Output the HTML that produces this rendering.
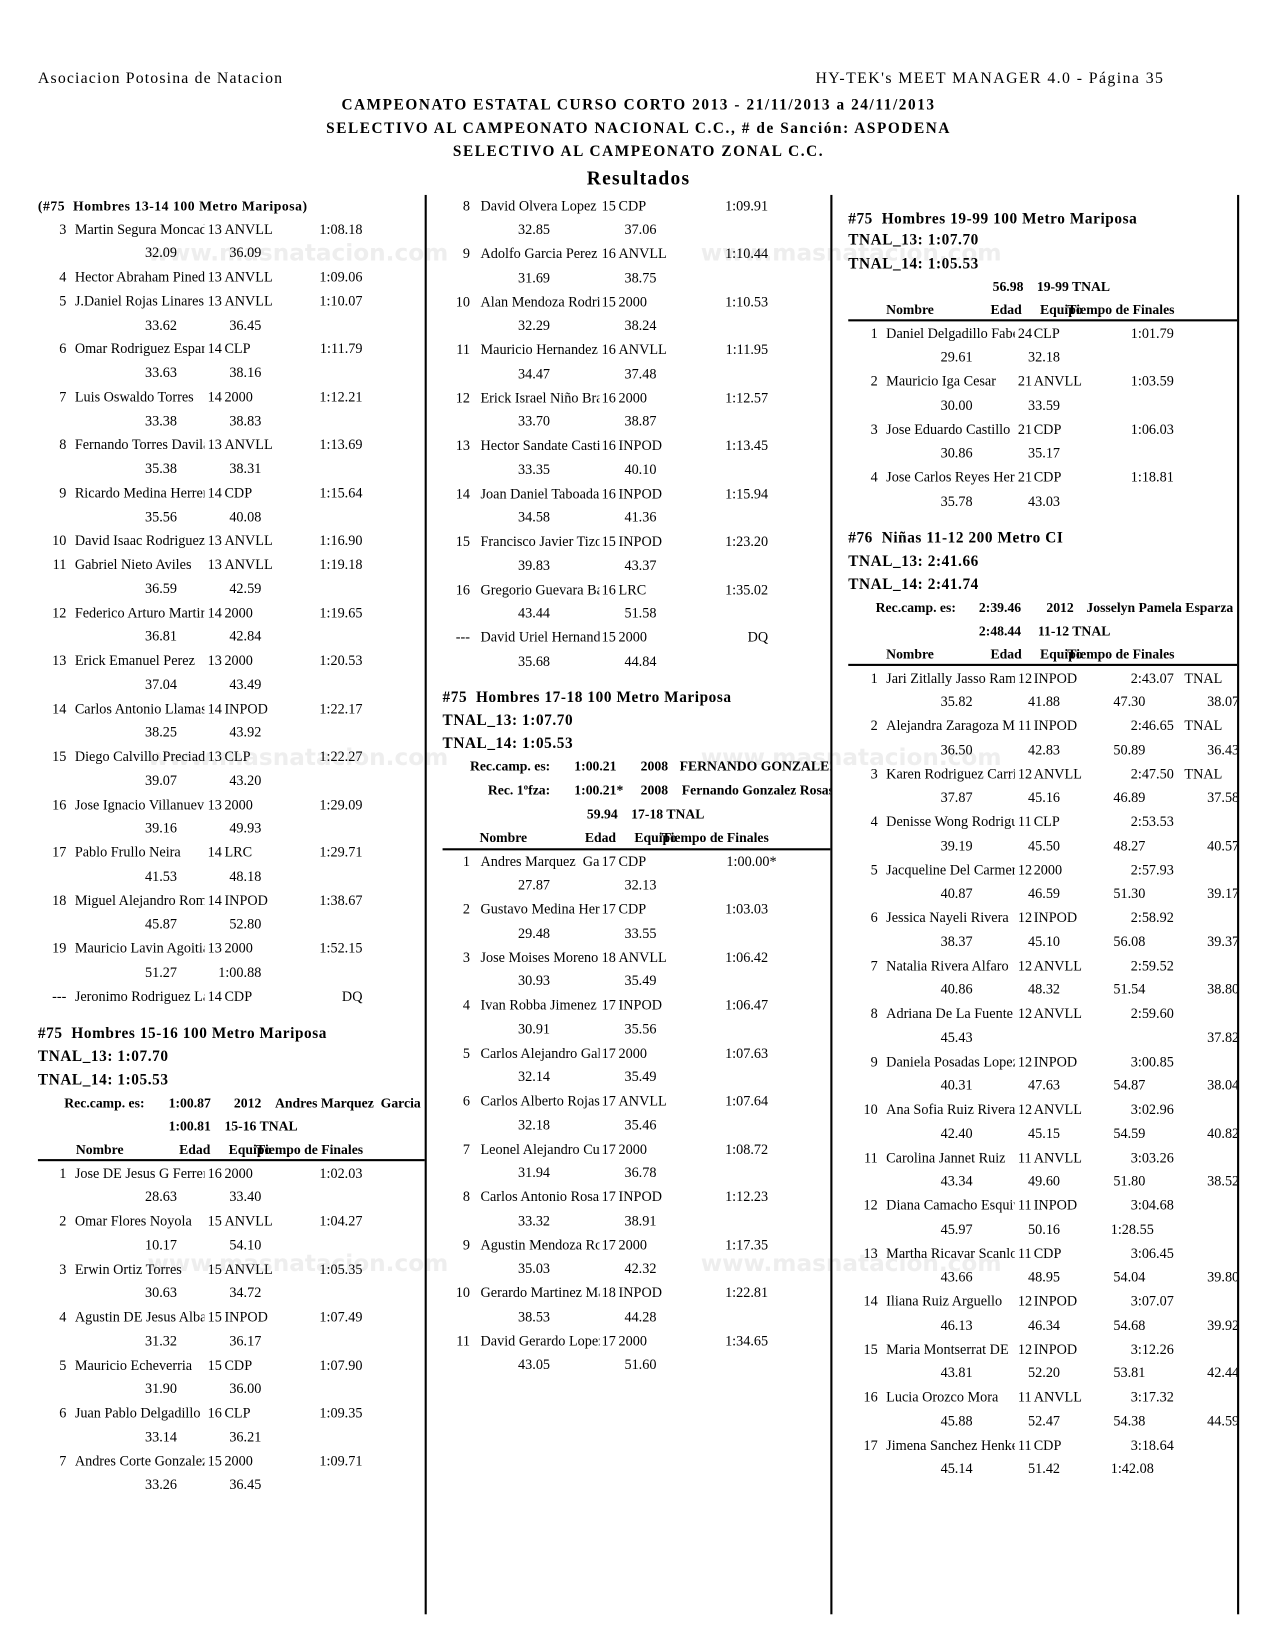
<!DOCTYPE html>
<html><head><meta charset="utf-8">
<style>
html,body{margin:0;padding:0;background:#fff;width:1275px;height:1650px;overflow:hidden}
#pg{position:absolute;left:0;top:0;width:1210px;height:1566px;transform:scale(1.05372);transform-origin:0 0;font-family:"Liberation Serif",serif;font-size:13.5px;color:#000}
.abs{position:absolute;white-space:nowrap;line-height:22px}
.b{font-weight:bold}
.h{font-weight:bold;font-size:14.5px;letter-spacing:0.55px}
.t1{font-weight:bold;font-size:14.5px;letter-spacing:1.5px}
.rc{font-weight:bold;font-size:13px}
.col{position:absolute;top:0;left:0;height:1566px;overflow:hidden}
.L{width:403px}.M{width:788px}.R{width:1174px}
.blk{position:absolute;left:0;width:1210px}
.r{position:relative;height:22.75px;line-height:22.75px}
.r span{position:absolute;top:0;white-space:nowrap}
.L .p{left:20px;width:43px;text-align:right}.L .nm{left:71px;width:123px;overflow:hidden}.L .a{left:197px}.L .tm{left:213px}.L .t{left:284px;width:60px;text-align:right}.L .s1{left:108px;width:60px;text-align:right}.L .s2{left:188px;width:60px;text-align:right}
.M .p{left:396px;width:50px;text-align:right}.M .nm{left:456px;width:113px;overflow:hidden}.M .a{left:571px}.M .tm{left:587px}.M .t{left:669px;width:60px;text-align:right}.M .s1{left:462px;width:60px;text-align:right}.M .s2{left:563px;width:60px;text-align:right}
.R .p{left:783px;width:50px;text-align:right}.R .nm{left:841px;width:122px;overflow:hidden}.R .a{left:966px}.R .tm{left:981px}.R .t{left:1054px;width:60px;text-align:right}.R .x{left:1124px}.R .s1{left:863px;width:60px;text-align:right}.R .s2{left:946px;width:60px;text-align:right}.R .s3{left:1027px;width:60px;text-align:right}.R .s4{left:1116px;width:60px;text-align:right}
.vl{position:absolute;width:2px;background:#000;top:185px;height:1347px}
.hl{position:absolute;height:2px;background:#000}
.wm{position:absolute;font-family:"DejaVu Sans",sans-serif;font-weight:bold;font-size:22px;color:#eeeeee;white-space:nowrap;line-height:24px}
</style></head><body><div id="pg">

<div class="wm" style="left:140px;top:229px">www.masnatacion.com</div>
<div class="wm" style="left:665px;top:229px">www.masnatacion.com</div>
<div class="wm" style="left:140px;top:708px">www.masnatacion.com</div>
<div class="wm" style="left:665px;top:708px">www.masnatacion.com</div>
<div class="wm" style="left:140px;top:1188px">www.masnatacion.com</div>
<div class="wm" style="left:665px;top:1188px">www.masnatacion.com</div>

<div class="abs" style="left:36px;top:64px;font-size:15px;letter-spacing:1.1px">Asociacion Potosina de Natacion</div>
<div class="abs" style="left:655px;top:64px;width:450px;text-align:right;font-size:15px;letter-spacing:1.35px">HY-TEK's MEET MANAGER 4.0 - Página 35</div>
<div class="abs t1" style="left:0;width:1212px;text-align:center;top:89px">CAMPEONATO ESTATAL CURSO CORTO 2013 - 21/11/2013 a 24/11/2013</div>
<div class="abs t1" style="left:0;width:1212px;text-align:center;top:111px">SELECTIVO AL CAMPEONATO NACIONAL C.C., # de Sanción: ASPODENA</div>
<div class="abs t1" style="left:0;width:1212px;text-align:center;top:133px">SELECTIVO AL CAMPEONATO ZONAL C.C.</div>
<div class="abs b" style="left:0;width:1212px;text-align:center;top:159px;font-size:18.5px;letter-spacing:1.2px">Resultados</div>

<div class="vl" style="left:403px"></div>
<div class="vl" style="left:788px"></div>
<div class="vl" style="left:1174px"></div>

<!-- LEFT -->
<div class="col L">
<div class="abs b" style="left:36px;top:185px;font-size:13px;letter-spacing:0.5px">(#75&nbsp; Hombres 13-14 100 Metro Mariposa)</div>
<div class="blk" style="top:206.6px">
<div class="r"><span class="p">3</span><span class="nm">Martin Segura Moncada</span><span class="a">13</span><span class="tm">ANVLL</span><span class="t">1:08.18</span></div>
<div class="r"><span class="s1">32.09</span><span class="s2">36.09</span></div>
<div class="r"><span class="p">4</span><span class="nm">Hector Abraham Pineda</span><span class="a">13</span><span class="tm">ANVLL</span><span class="t">1:09.06</span></div>
<div class="r"><span class="p">5</span><span class="nm">J.Daniel Rojas Linares</span><span class="a">13</span><span class="tm">ANVLL</span><span class="t">1:10.07</span></div>
<div class="r"><span class="s1">33.62</span><span class="s2">36.45</span></div>
<div class="r"><span class="p">6</span><span class="nm">Omar Rodriguez Esparza</span><span class="a">14</span><span class="tm">CLP</span><span class="t">1:11.79</span></div>
<div class="r"><span class="s1">33.63</span><span class="s2">38.16</span></div>
<div class="r"><span class="p">7</span><span class="nm">Luis Oswaldo Torres</span><span class="a">14</span><span class="tm">2000</span><span class="t">1:12.21</span></div>
<div class="r"><span class="s1">33.38</span><span class="s2">38.83</span></div>
<div class="r"><span class="p">8</span><span class="nm">Fernando Torres Davila</span><span class="a">13</span><span class="tm">ANVLL</span><span class="t">1:13.69</span></div>
<div class="r"><span class="s1">35.38</span><span class="s2">38.31</span></div>
<div class="r"><span class="p">9</span><span class="nm">Ricardo Medina Herrera</span><span class="a">14</span><span class="tm">CDP</span><span class="t">1:15.64</span></div>
<div class="r"><span class="s1">35.56</span><span class="s2">40.08</span></div>
<div class="r"><span class="p">10</span><span class="nm">David Isaac Rodriguez</span><span class="a">13</span><span class="tm">ANVLL</span><span class="t">1:16.90</span></div>
<div class="r"><span class="p">11</span><span class="nm">Gabriel Nieto Aviles</span><span class="a">13</span><span class="tm">ANVLL</span><span class="t">1:19.18</span></div>
<div class="r"><span class="s1">36.59</span><span class="s2">42.59</span></div>
<div class="r"><span class="p">12</span><span class="nm">Federico Arturo Martinez</span><span class="a">14</span><span class="tm">2000</span><span class="t">1:19.65</span></div>
<div class="r"><span class="s1">36.81</span><span class="s2">42.84</span></div>
<div class="r"><span class="p">13</span><span class="nm">Erick Emanuel Perez</span><span class="a">13</span><span class="tm">2000</span><span class="t">1:20.53</span></div>
<div class="r"><span class="s1">37.04</span><span class="s2">43.49</span></div>
<div class="r"><span class="p">14</span><span class="nm">Carlos Antonio Llamas</span><span class="a">14</span><span class="tm">INPOD</span><span class="t">1:22.17</span></div>
<div class="r"><span class="s1">38.25</span><span class="s2">43.92</span></div>
<div class="r"><span class="p">15</span><span class="nm">Diego Calvillo Preciado</span><span class="a">13</span><span class="tm">CLP</span><span class="t">1:22.27</span></div>
<div class="r"><span class="s1">39.07</span><span class="s2">43.20</span></div>
<div class="r"><span class="p">16</span><span class="nm">Jose Ignacio Villanueva</span><span class="a">13</span><span class="tm">2000</span><span class="t">1:29.09</span></div>
<div class="r"><span class="s1">39.16</span><span class="s2">49.93</span></div>
<div class="r"><span class="p">17</span><span class="nm">Pablo Frullo Neira</span><span class="a">14</span><span class="tm">LRC</span><span class="t">1:29.71</span></div>
<div class="r"><span class="s1">41.53</span><span class="s2">48.18</span></div>
<div class="r"><span class="p">18</span><span class="nm">Miguel Alejandro Romero</span><span class="a">14</span><span class="tm">INPOD</span><span class="t">1:38.67</span></div>
<div class="r"><span class="s1">45.87</span><span class="s2">52.80</span></div>
<div class="r"><span class="p">19</span><span class="nm">Mauricio Lavin Agoitia</span><span class="a">13</span><span class="tm">2000</span><span class="t">1:52.15</span></div>
<div class="r"><span class="s1">51.27</span><span class="s2">1:00.88</span></div>
<div class="r"><span class="p">---</span><span class="nm">Jeronimo Rodriguez Lara</span><span class="a">14</span><span class="tm">CDP</span><span class="t">DQ</span></div>
</div>

<div class="abs h" style="left:36px;top:970px">#75&nbsp; Hombres 15-16 100 Metro Mariposa</div>
<div class="abs h" style="left:36px;top:992px">TNAL_13: 1:07.70</div>
<div class="abs h" style="left:36px;top:1014px">TNAL_14: 1:05.53</div>
<div class="abs rc" style="left:61px;top:1036px">Rec.camp. es:</div>
<div class="abs rc" style="left:160px;top:1036px">1:00.87</div>
<div class="abs rc" style="left:222px;top:1036px">2012</div>
<div class="abs rc" style="left:261px;top:1036px">Andres Marquez&nbsp; Garcia</div>
<div class="abs rc" style="left:160px;top:1058px">1:00.81</div>
<div class="abs rc" style="left:213px;top:1058px">15-16 TNAL</div>
<div class="abs rc" style="left:72px;top:1080px">Nombre</div>
<div class="abs rc" style="left:170px;top:1080px">Edad</div>
<div class="abs rc" style="left:217px;top:1080px">Equipo</div>
<div class="abs rc" style="left:243px;top:1080px">Tiempo de Finales</div>
<div class="hl" style="left:36px;width:370px;top:1100px"></div>
<div class="blk" style="top:1102.6px">
<div class="r"><span class="p">1</span><span class="nm">Jose DE Jesus G Ferrer</span><span class="a">16</span><span class="tm">2000</span><span class="t">1:02.03</span></div>
<div class="r"><span class="s1">28.63</span><span class="s2">33.40</span></div>
<div class="r"><span class="p">2</span><span class="nm">Omar Flores Noyola</span><span class="a">15</span><span class="tm">ANVLL</span><span class="t">1:04.27</span></div>
<div class="r"><span class="s1">10.17</span><span class="s2">54.10</span></div>
<div class="r"><span class="p">3</span><span class="nm">Erwin Ortiz Torres</span><span class="a">15</span><span class="tm">ANVLL</span><span class="t">1:05.35</span></div>
<div class="r"><span class="s1">30.63</span><span class="s2">34.72</span></div>
<div class="r"><span class="p">4</span><span class="nm">Agustin DE Jesus Alba</span><span class="a">15</span><span class="tm">INPOD</span><span class="t">1:07.49</span></div>
<div class="r"><span class="s1">31.32</span><span class="s2">36.17</span></div>
<div class="r"><span class="p">5</span><span class="nm">Mauricio Echeverria</span><span class="a">15</span><span class="tm">CDP</span><span class="t">1:07.90</span></div>
<div class="r"><span class="s1">31.90</span><span class="s2">36.00</span></div>
<div class="r"><span class="p">6</span><span class="nm">Juan Pablo Delgadillo</span><span class="a">16</span><span class="tm">CLP</span><span class="t">1:09.35</span></div>
<div class="r"><span class="s1">33.14</span><span class="s2">36.21</span></div>
<div class="r"><span class="p">7</span><span class="nm">Andres Corte Gonzalez</span><span class="a">15</span><span class="tm">2000</span><span class="t">1:09.71</span></div>
<div class="r"><span class="s1">33.26</span><span class="s2">36.45</span></div>
</div>
</div>

<!-- MIDDLE -->
<div class="col M">
<div class="blk" style="top:184.6px">
<div class="r"><span class="p">8</span><span class="nm">David Olvera Lopez</span><span class="a">15</span><span class="tm">CDP</span><span class="t">1:09.91</span></div>
<div class="r"><span class="s1">32.85</span><span class="s2">37.06</span></div>
<div class="r"><span class="p">9</span><span class="nm">Adolfo Garcia Perez</span><span class="a">16</span><span class="tm">ANVLL</span><span class="t">1:10.44</span></div>
<div class="r"><span class="s1">31.69</span><span class="s2">38.75</span></div>
<div class="r"><span class="p">10</span><span class="nm">Alan Mendoza Rodriguez</span><span class="a">15</span><span class="tm">2000</span><span class="t">1:10.53</span></div>
<div class="r"><span class="s1">32.29</span><span class="s2">38.24</span></div>
<div class="r"><span class="p">11</span><span class="nm">Mauricio Hernandez</span><span class="a">16</span><span class="tm">ANVLL</span><span class="t">1:11.95</span></div>
<div class="r"><span class="s1">34.47</span><span class="s2">37.48</span></div>
<div class="r"><span class="p">12</span><span class="nm">Erick Israel Niño Bravo</span><span class="a">16</span><span class="tm">2000</span><span class="t">1:12.57</span></div>
<div class="r"><span class="s1">33.70</span><span class="s2">38.87</span></div>
<div class="r"><span class="p">13</span><span class="nm">Hector Sandate Castillo</span><span class="a">16</span><span class="tm">INPOD</span><span class="t">1:13.45</span></div>
<div class="r"><span class="s1">33.35</span><span class="s2">40.10</span></div>
<div class="r"><span class="p">14</span><span class="nm">Joan Daniel Taboada</span><span class="a">16</span><span class="tm">INPOD</span><span class="t">1:15.94</span></div>
<div class="r"><span class="s1">34.58</span><span class="s2">41.36</span></div>
<div class="r"><span class="p">15</span><span class="nm">Francisco Javier Tizoc</span><span class="a">15</span><span class="tm">INPOD</span><span class="t">1:23.20</span></div>
<div class="r"><span class="s1">39.83</span><span class="s2">43.37</span></div>
<div class="r"><span class="p">16</span><span class="nm">Gregorio Guevara Barrios</span><span class="a">16</span><span class="tm">LRC</span><span class="t">1:35.02</span></div>
<div class="r"><span class="s1">43.44</span><span class="s2">51.58</span></div>
<div class="r"><span class="p">---</span><span class="nm">David Uriel Hernandez</span><span class="a">15</span><span class="tm">2000</span><span class="t">DQ</span></div>
<div class="r"><span class="s1">35.68</span><span class="s2">44.84</span></div>
</div>

<div class="abs h" style="left:420px;top:651px">#75&nbsp; Hombres 17-18 100 Metro Mariposa</div>
<div class="abs h" style="left:420px;top:673px">TNAL_13: 1:07.70</div>
<div class="abs h" style="left:420px;top:695px">TNAL_14: 1:05.53</div>
<div class="abs rc" style="left:446px;top:716px">Rec.camp. es:</div>
<div class="abs rc" style="left:545px;top:716px">1:00.21</div>
<div class="abs rc" style="left:608px;top:716px">2008</div>
<div class="abs rc" style="left:645px;top:716px">FERNANDO GONZALEZ</div>
<div class="abs rc" style="left:463px;top:739px">Rec. 1ºfza:</div>
<div class="abs rc" style="left:545px;top:739px">1:00.21*</div>
<div class="abs rc" style="left:608px;top:739px">2008</div>
<div class="abs rc" style="left:647px;top:739px">Fernando Gonzalez Rosas</div>
<div class="abs rc" style="left:557px;top:762px">59.94</div>
<div class="abs rc" style="left:599px;top:762px">17-18 TNAL</div>
<div class="abs rc" style="left:455px;top:784px">Nombre</div>
<div class="abs rc" style="left:555px;top:784px">Edad</div>
<div class="abs rc" style="left:602px;top:784px">Equipo</div>
<div class="abs rc" style="left:628px;top:784px">Tiempo de Finales</div>
<div class="hl" style="left:420px;width:370px;top:805px"></div>
<div class="blk" style="top:806.6px">
<div class="r"><span class="p">1</span><span class="nm">Andres Marquez&nbsp; Garcia</span><span class="a">17</span><span class="tm">CDP</span><span class="t" style="width:68px">1:00.00*</span></div>
<div class="r"><span class="s1">27.87</span><span class="s2">32.13</span></div>
<div class="r"><span class="p">2</span><span class="nm">Gustavo Medina Herrera</span><span class="a">17</span><span class="tm">CDP</span><span class="t">1:03.03</span></div>
<div class="r"><span class="s1">29.48</span><span class="s2">33.55</span></div>
<div class="r"><span class="p">3</span><span class="nm">Jose Moises Moreno</span><span class="a">18</span><span class="tm">ANVLL</span><span class="t">1:06.42</span></div>
<div class="r"><span class="s1">30.93</span><span class="s2">35.49</span></div>
<div class="r"><span class="p">4</span><span class="nm">Ivan Robba Jimenez</span><span class="a">17</span><span class="tm">INPOD</span><span class="t">1:06.47</span></div>
<div class="r"><span class="s1">30.91</span><span class="s2">35.56</span></div>
<div class="r"><span class="p">5</span><span class="nm">Carlos Alejandro Galvan</span><span class="a">17</span><span class="tm">2000</span><span class="t">1:07.63</span></div>
<div class="r"><span class="s1">32.14</span><span class="s2">35.49</span></div>
<div class="r"><span class="p">6</span><span class="nm">Carlos Alberto Rojas</span><span class="a">17</span><span class="tm">ANVLL</span><span class="t">1:07.64</span></div>
<div class="r"><span class="s1">32.18</span><span class="s2">35.46</span></div>
<div class="r"><span class="p">7</span><span class="nm">Leonel Alejandro Cuevas</span><span class="a">17</span><span class="tm">2000</span><span class="t">1:08.72</span></div>
<div class="r"><span class="s1">31.94</span><span class="s2">36.78</span></div>
<div class="r"><span class="p">8</span><span class="nm">Carlos Antonio Rosas</span><span class="a">17</span><span class="tm">INPOD</span><span class="t">1:12.23</span></div>
<div class="r"><span class="s1">33.32</span><span class="s2">38.91</span></div>
<div class="r"><span class="p">9</span><span class="nm">Agustin Mendoza Rosas</span><span class="a">17</span><span class="tm">2000</span><span class="t">1:17.35</span></div>
<div class="r"><span class="s1">35.03</span><span class="s2">42.32</span></div>
<div class="r"><span class="p">10</span><span class="nm">Gerardo Martinez Martinez</span><span class="a">18</span><span class="tm">INPOD</span><span class="t">1:22.81</span></div>
<div class="r"><span class="s1">38.53</span><span class="s2">44.28</span></div>
<div class="r"><span class="p">11</span><span class="nm">David Gerardo Lopez</span><span class="a">17</span><span class="tm">2000</span><span class="t">1:34.65</span></div>
<div class="r"><span class="s1">43.05</span><span class="s2">51.60</span></div>
</div>
</div>

<!-- RIGHT -->
<div class="col R">
<div class="abs h" style="left:805px;top:197px">#75&nbsp; Hombres 19-99 100 Metro Mariposa</div>
<div class="abs h" style="left:805px;top:217px">TNAL_13: 1:07.70</div>
<div class="abs h" style="left:805px;top:240px">TNAL_14: 1:05.53</div>
<div class="abs rc" style="left:942px;top:261px">56.98</div>
<div class="abs rc" style="left:984px;top:261px">19-99 TNAL</div>
<div class="abs rc" style="left:841px;top:283px">Nombre</div>
<div class="abs rc" style="left:940px;top:283px">Edad</div>
<div class="abs rc" style="left:987px;top:283px">Equipo</div>
<div class="abs rc" style="left:1013px;top:283px">Tiempo de Finales</div>
<div class="hl" style="left:805px;width:370px;top:303px"></div>
<div class="blk" style="top:305.6px">
<div class="r"><span class="p">1</span><span class="nm">Daniel Delgadillo Fabela</span><span class="a">24</span><span class="tm">CLP</span><span class="t">1:01.79</span></div>
<div class="r"><span class="s1">29.61</span><span class="s2">32.18</span></div>
<div class="r"><span class="p">2</span><span class="nm">Mauricio Iga Cesar</span><span class="a">21</span><span class="tm">ANVLL</span><span class="t">1:03.59</span></div>
<div class="r"><span class="s1">30.00</span><span class="s2">33.59</span></div>
<div class="r"><span class="p">3</span><span class="nm">Jose Eduardo Castillo</span><span class="a">21</span><span class="tm">CDP</span><span class="t">1:06.03</span></div>
<div class="r"><span class="s1">30.86</span><span class="s2">35.17</span></div>
<div class="r"><span class="p">4</span><span class="nm">Jose Carlos Reyes Hernandez</span><span class="a">21</span><span class="tm">CDP</span><span class="t">1:18.81</span></div>
<div class="r"><span class="s1">35.78</span><span class="s2">43.03</span></div>
</div>

<div class="abs h" style="left:805px;top:500px">#76&nbsp; Niñas 11-12 200 Metro CI</div>
<div class="abs h" style="left:805px;top:522px">TNAL_13: 2:41.66</div>
<div class="abs h" style="left:805px;top:544px">TNAL_14: 2:41.74</div>
<div class="abs rc" style="left:831px;top:566px">Rec.camp. es:</div>
<div class="abs rc" style="left:929px;top:566px">2:39.46</div>
<div class="abs rc" style="left:993px;top:566px">2012</div>
<div class="abs rc" style="left:1031px;top:566px">Josselyn Pamela Esparza</div>
<div class="abs rc" style="left:929px;top:588px">2:48.44</div>
<div class="abs rc" style="left:985px;top:588px">11-12 TNAL</div>
<div class="abs rc" style="left:841px;top:610px">Nombre</div>
<div class="abs rc" style="left:940px;top:610px">Edad</div>
<div class="abs rc" style="left:987px;top:610px">Equipo</div>
<div class="abs rc" style="left:1013px;top:610px">Tiempo de Finales</div>
<div class="hl" style="left:805px;width:370px;top:630px"></div>
<div class="blk" style="top:632.6px">
<div class="r"><span class="p">1</span><span class="nm">Jari Zitlally Jasso Ramirez</span><span class="a">12</span><span class="tm">INPOD</span><span class="t">2:43.07</span><span class="x">TNAL</span></div>
<div class="r"><span class="s1">35.82</span><span class="s2">41.88</span><span class="s3">47.30</span><span class="s4">38.07</span></div>
<div class="r"><span class="p">2</span><span class="nm">Alejandra Zaragoza Martinez</span><span class="a">11</span><span class="tm">INPOD</span><span class="t">2:46.65</span><span class="x">TNAL</span></div>
<div class="r"><span class="s1">36.50</span><span class="s2">42.83</span><span class="s3">50.89</span><span class="s4">36.43</span></div>
<div class="r"><span class="p">3</span><span class="nm">Karen Rodriguez Carrillo</span><span class="a">12</span><span class="tm">ANVLL</span><span class="t">2:47.50</span><span class="x">TNAL</span></div>
<div class="r"><span class="s1">37.87</span><span class="s2">45.16</span><span class="s3">46.89</span><span class="s4">37.58</span></div>
<div class="r"><span class="p">4</span><span class="nm">Denisse Wong Rodriguez</span><span class="a">11</span><span class="tm">CLP</span><span class="t">2:53.53</span></div>
<div class="r"><span class="s1">39.19</span><span class="s2">45.50</span><span class="s3">48.27</span><span class="s4">40.57</span></div>
<div class="r"><span class="p">5</span><span class="nm">Jacqueline Del Carmen</span><span class="a">12</span><span class="tm">2000</span><span class="t">2:57.93</span></div>
<div class="r"><span class="s1">40.87</span><span class="s2">46.59</span><span class="s3">51.30</span><span class="s4">39.17</span></div>
<div class="r"><span class="p">6</span><span class="nm">Jessica Nayeli Rivera</span><span class="a">12</span><span class="tm">INPOD</span><span class="t">2:58.92</span></div>
<div class="r"><span class="s1">38.37</span><span class="s2">45.10</span><span class="s3">56.08</span><span class="s4">39.37</span></div>
<div class="r"><span class="p">7</span><span class="nm">Natalia Rivera Alfaro</span><span class="a">12</span><span class="tm">ANVLL</span><span class="t">2:59.52</span></div>
<div class="r"><span class="s1">40.86</span><span class="s2">48.32</span><span class="s3">51.54</span><span class="s4">38.80</span></div>
<div class="r"><span class="p">8</span><span class="nm">Adriana De La Fuente</span><span class="a">12</span><span class="tm">ANVLL</span><span class="t">2:59.60</span></div>
<div class="r"><span class="s1">45.43</span><span class="s4">37.82</span></div>
<div class="r"><span class="p">9</span><span class="nm">Daniela Posadas Lopez</span><span class="a">12</span><span class="tm">INPOD</span><span class="t">3:00.85</span></div>
<div class="r"><span class="s1">40.31</span><span class="s2">47.63</span><span class="s3">54.87</span><span class="s4">38.04</span></div>
<div class="r"><span class="p">10</span><span class="nm">Ana Sofia Ruiz Rivera</span><span class="a">12</span><span class="tm">ANVLL</span><span class="t">3:02.96</span></div>
<div class="r"><span class="s1">42.40</span><span class="s2">45.15</span><span class="s3">54.59</span><span class="s4">40.82</span></div>
<div class="r"><span class="p">11</span><span class="nm">Carolina Jannet Ruiz</span><span class="a">11</span><span class="tm">ANVLL</span><span class="t">3:03.26</span></div>
<div class="r"><span class="s1">43.34</span><span class="s2">49.60</span><span class="s3">51.80</span><span class="s4">38.52</span></div>
<div class="r"><span class="p">12</span><span class="nm">Diana Camacho Esquivel</span><span class="a">11</span><span class="tm">INPOD</span><span class="t">3:04.68</span></div>
<div class="r"><span class="s1">45.97</span><span class="s2">50.16</span><span class="s3" style="left:1035px">1:28.55</span></div>
<div class="r"><span class="p">13</span><span class="nm">Martha Ricavar Scanlon</span><span class="a">11</span><span class="tm">CDP</span><span class="t">3:06.45</span></div>
<div class="r"><span class="s1">43.66</span><span class="s2">48.95</span><span class="s3">54.04</span><span class="s4">39.80</span></div>
<div class="r"><span class="p">14</span><span class="nm">Iliana Ruiz Arguello</span><span class="a">12</span><span class="tm">INPOD</span><span class="t">3:07.07</span></div>
<div class="r"><span class="s1">46.13</span><span class="s2">46.34</span><span class="s3">54.68</span><span class="s4">39.92</span></div>
<div class="r"><span class="p">15</span><span class="nm">Maria Montserrat DE</span><span class="a">12</span><span class="tm">INPOD</span><span class="t">3:12.26</span></div>
<div class="r"><span class="s1">43.81</span><span class="s2">52.20</span><span class="s3">53.81</span><span class="s4">42.44</span></div>
<div class="r"><span class="p">16</span><span class="nm">Lucia Orozco Mora</span><span class="a">11</span><span class="tm">ANVLL</span><span class="t">3:17.32</span></div>
<div class="r"><span class="s1">45.88</span><span class="s2">52.47</span><span class="s3">54.38</span><span class="s4">44.59</span></div>
<div class="r"><span class="p">17</span><span class="nm">Jimena Sanchez Henkel</span><span class="a">11</span><span class="tm">CDP</span><span class="t">3:18.64</span></div>
<div class="r"><span class="s1">45.14</span><span class="s2">51.42</span><span class="s3" style="left:1035px">1:42.08</span></div>
</div>
</div>

</div></body></html>
